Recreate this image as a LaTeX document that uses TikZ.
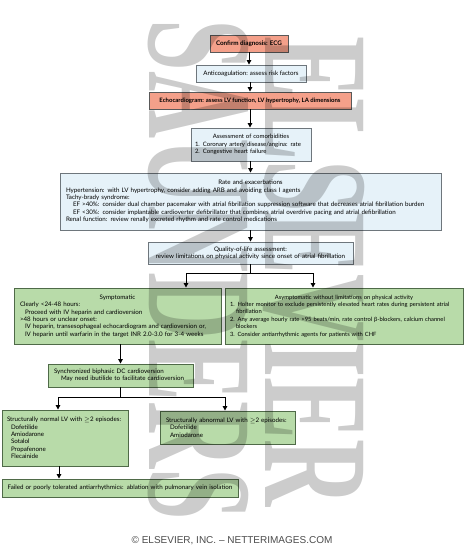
\documentclass[tikz,border=0pt]{standalone}
\usepackage{fontspec}
\setmainfont{Lato}
\newfontfamily\cpfont{Liberation Sans}
\newfontfamily\wmfont{Liberation Serif}
\usetikzlibrary{arrows.meta,calc}
\definecolor{salmonfill}{HTML}{F4A08A}
\definecolor{bluefill}{HTML}{E6F2F9}
\definecolor{greenfill}{HTML}{B8DBA9}
\definecolor{greenline}{HTML}{4F6A48}
\definecolor{grayline}{HTML}{6E767C}
\newcommand{\ttl}[1]{\makebox[\linewidth][c]{#1}\\}
\begin{document}
\begin{tikzpicture}[x=1pt,y=-1pt,
  base/.style={inner xsep=6pt, inner ysep=0pt, font=\fontsize{6.2}{7.4}\selectfont, line width=0.9pt},
  redbox/.style={base, fill=salmonfill, draw=black!65, align=center},
  bluebox/.style={base, fill=bluefill, draw=grayline},
  greenbox/.style={base, fill=greenfill, draw=greenline},
  arr/.style={line width=1pt, -{Triangle[length=4.5pt,width=4.5pt]}},
  ln/.style={line width=1pt},
  wm/.style={transform shape, inner sep=0pt, font=\wmfont\bfseries\fontsize{150}{150}\selectfont, text=black, text opacity=0.2}
]
\useasboundingbox (0,0) rectangle (475,550);
\fill[white] (0,0) rectangle (475,550);

% top chain
\node[redbox, font=\fontsize{6.3}{8}\selectfont\bfseries, inner xsep=0pt, minimum width=78pt, minimum height=17pt] (b1) at (249,43.5) {Confirm diagnosis: ECG};
\node[bluebox, align=center, inner xsep=0pt, minimum width=110pt, minimum height=17pt] (b2) at (251,73.5) {Anticoagulation: assess risk factors};
\node[redbox, font=\fontsize{6}{7.4}\selectfont\bfseries, inner xsep=0pt, minimum width=202pt, minimum height=17pt] (b3) at (250,100.5) {Echocardiogram: assess LV function, LV hypertrophy, LA dimensions};
\node[bluebox, font=\fontsize{6}{7.4}\selectfont, inner xsep=4pt, align=left, text width=112pt, minimum height=33pt] (b4) at (251,144.5) {\ttl{Assessment of comorbidities}1. Coronary artery disease/angina: rate\\2. Congestive heart failure};
\node[bluebox, align=left, text width=369pt, minimum height=57pt] (b5) at (250.5,201.5) {\ttl{Rate and exacerbations}Hypertension: with LV hypertrophy, consider adding ARB and avoiding class I agents\\Tachy-brady syndrome:\\\hspace*{7pt}EF >40\%: consider dual chamber pacemaker with atrial fibrillation suppression software that decreases atrial fibrillation burden\\\hspace*{7pt}EF <30\%: consider implantable cardioverter defibrillator that combines atrial overdrive pacing and atrial defibrillation\\Renal function: review renally excreted rhythm and rate control medications};
\node[bluebox, align=center, text width=193pt, minimum height=22pt] (b6) at (250.5,253) {Quality-of-life assessment:\\review limitations on physical activity since onset of atrial fibrillation};

% second level
\node[greenbox, align=left, text width=195pt, minimum height=56pt] (b7) at (117.5,316) {\ttl{Symptomatic}Clearly <24-48 hours:\\\hspace*{5pt}Proceed with IV heparin and cardioversion\\>48 hours or unclear onset:\\\hspace*{5pt}IV heparin, transesophageal echocardiogram and cardioversion or,\\\hspace*{5pt}IV heparin until warfarin in the target INR 2.0-3.0 for 3-4 weeks};
\node[greenbox, font=\fontsize{5.8}{7.4}\selectfont, inner xsep=5pt, align=left, text width=228pt, minimum height=56pt] (b8) at (344,316) {\ttl{Asymptomatic without limitations on physical activity}1. Holter monitor to exclude persistently elevated heart rates during persistent atrial\\\hspace*{6pt}fibrillation\\2. Any average hourly rate >95 beats/min, rate control β-blockers, calcium channel\\\hspace*{6pt}blockers\\3. Consider antiarrhythmic agents for patients with CHF};

\node[greenbox, align=left, text width=133pt, minimum height=23pt] (b9) at (120.5,375.5) {Synchronized biphasic DC cardioversion\\\hspace*{7pt}May need ibutilide to facilitate cardioversion};

\node[greenbox, inner xsep=5pt, align=left, text width=116pt, minimum height=56pt] (b10) at (65,438) {Structurally normal LV with $\geq$2 episodes:\\\hspace*{4pt}Dofetilide\\\hspace*{4pt}Amiodarone\\\hspace*{4pt}Sotalol\\\hspace*{4pt}Propafenone\\\hspace*{4pt}Flecainide};
\node[greenbox, align=left, text width=123pt, minimum height=33pt] (b11) at (227.5,427.5) {Structurally abnormal LV with $\geq$2 episodes:\\\hspace*{4pt}Dofetilide\\\hspace*{4pt}Amiodarone};

\node[greenbox, inner xsep=3pt, align=center, text width=230pt, minimum height=18pt] (b12) at (120,488) {Failed or poorly tolerated antiarrhythmics: ablation with pulmonary vein isolation};

% connectors
\draw[arr] (b1.south) -- (b1.south |- b2.north);
\draw[arr] (b2.south -| b3.north) -- (b3.north);
\draw[arr] (b3.south) -- (b3.south |- b4.north);
\draw[arr] (b4.south -| b5.north) -- (b5.north);
\draw[arr] (b5.south) -- (b5.south |- b6.north);

\coordinate (j1) at (250.5,273);
\coordinate (x7) at (186,0);
\coordinate (x8) at (313,0);
\draw[ln] (b6.south) -- (j1);
\draw[ln] (x7 |- j1) -- (x8 |- j1);
\draw[arr] (x7 |- j1) -- (x7 |- b7.north);
\draw[arr] (x8 |- j1) -- (x8 |- b8.north);

\draw[arr] (b9.north |- b7.south) -- (b9.north);

\coordinate (j2) at (120.5,397);
\coordinate (x10) at (58,0);
\coordinate (x11) at (225,0);
\draw[ln] (b9.south) -- (j2);
\draw[ln] (x10 |- j2) -- (x11 |- j2);
\draw[arr] (x10 |- j2) -- (x10 |- b10.north);
\draw[arr] (x11 |- j2) -- (x11 |- b11.north);

\coordinate (x12) at (59,0);
\draw[arr] (x12 |- b10.south) -- (x12 |- b12.north);

% copyright
\node[font=\cpfont\fontsize{10}{11}\selectfont, text=black!70, inner sep=0pt] (cp) at (232,541) {© ELSEVIER, INC. – NETTERIMAGES.COM};

% watermark
\begin{scope}[shift={(198,270)}, rotate=-90, xscale=0.62]
\node[wm] (wm1) at (0,0) {SAUNDERS};
\end{scope}
\begin{scope}[shift={(314,272)}, rotate=-90, xscale=0.62]
\node[wm] (wm2) at (0,0) {ELSEVIER};
\end{scope}
\end{tikzpicture}
\end{document}
